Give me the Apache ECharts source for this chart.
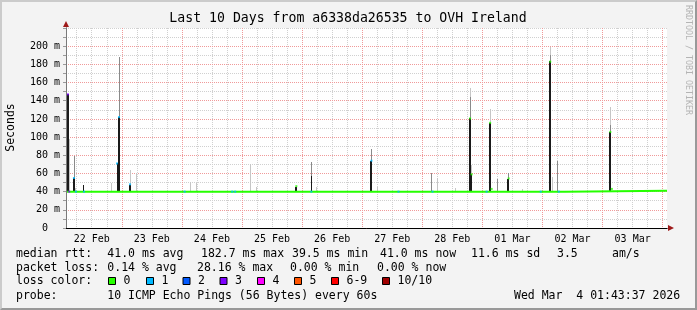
<!DOCTYPE html>
<html><head><meta charset="utf-8">
<script src="https://cdn.jsdelivr.net/npm/echarts@6/dist/echarts.min.js"></script>
<style>
html,body{margin:0;padding:0;background:#f3f3f3;overflow:hidden;}
#wrap{position:relative;width:697px;height:310px;}
#chart{position:absolute;left:0;top:0;width:697px;height:310px;}
#frame{position:absolute;left:0;top:0;width:697px;height:310px;box-sizing:border-box;border-top:2px solid #cbcbcb;border-left:2px solid #cbcbcb;border-right:2px solid #999;border-bottom:2px solid #999;pointer-events:none;}
</style></head>
<body><div id="wrap"><div id="chart"></div><div id="frame"></div></div>
<script>
// ---- time axis: hours since 22 Feb 00:00 ----
const X_MIN = 1.727, X_MAX = 241.727;
const Y_MIN = 0, Y_MAX = 220;
const dayLabels = ['22 Feb','23 Feb','24 Feb','25 Feb','26 Feb','27 Feb','28 Feb','01 Mar','02 Mar','03 Mar'];
const labelTimes = [12,36,60,84,108,132,156,180,204,228];
const midnightTimes = [24,48,72,96,120,144,168,192,216,240];
const sixHourTimes = [6,12,18,30,36,42,54,60,66,78,84,90,102,108,114,126,132,138,150,156,162,174,180,186,198,204,210,222,228,234];
const yLabelValues = [0,20,40,60,80,100,120,140,160,180,200];
const yMajorValues = [20,40,60,80,100,120,140,160,180,200];
const yMinorValues = [10,30,50,70,90,110,130,150,170,190,210,220];
const yTickValues = [0,10,20,30,40,50,60,70,80,90,100,110,120,130,140,150,160,170,180,190,200,210,220];

// ---- smoke columns (ms): dark core, medium grey, light grey tops ----
const SMOKE_BASE = 39.5;
const smokeTimes = [2.5,2.9,3.3,4.9,5.3,5.7,8.9,19.7,22.1,22.5,22.9,26.9,27.3,29.7,51.3,53.7,75.3,77.7,93.3,93.7,99.7,101.7,123.3,123.7,126.1,147.7,150.1,157.3,162.9,163.3,163.7,170.9,171.3,174.1,178.1,178.5,184.1,194.9,195.3,196.1,198.1,218.9,219.3];
const smokeDark  = [147,147,0,55,55,0,47,0,71,122,122,47,47,0,0,0,0,0,45,45,57,0,74,74,0,0,0,0,120.5,120.5,59,115.7,115.7,0,53.5,53.5,0,183.5,183.5,0,0,105.7,105.7];
const smokeMid   = [0,0,0,0,79,0,0,0,0,0,188,0,0,0,0,0,0,0,0,0,73,0,0,87,0,60,0,0,0,143.6,0,0,0,54,0,60,0,0,190,0,74,0,113];
const smokeLight = [0,0,98,0,0,44,0,50,0,0,0,0,64,60,50.6,50,70,45,0,0,0,45,0,0,45.5,0,55,43.6,0,153.5,69,0,130.5,0,0,0,42.5,0,199,56,0,0,133.4];

// ---- median rtt line (ms) ----
const medianBaseTimes = [1.727, 200.9, 241.727];
const medianBaseValues = [40, 41, 41];
const medianPointTimes = [2.5,3.0,4.9,5.7,8.9,22.1,22.9,27.3,49.1,68.1,69.3,93.7,99.7,123.7,134.5,148.1,163.1,163.7,169.7,171.1,171.7,178.5,191.3,195.1,198.5,219.1,219.7];
const medianPointValues = [147,40,55,40,40,71,122,48,40,40,40,46,40,74,40,40,120.5,59,40,115.7,43,54.5,40,183,40,105.7,43];
const medianPointLoss   = [3,3,1,1,1,1,1,1,1,1,1,0,1,1,1,1,0,0,1,0,0,0,1,0,1,0,0];

// ---- legend ----
const lossLabels = ['0','1','2','3','4','5','6-9','10/10'];
const lossColors = ['#26ff00','#00b8ff','#0059ff','#7e00ff','#ff00ff','#ff5500','#ff0000','#a00000'];
const titleText = 'Last 10 Days from a6338da26535 to OVH Ireland';
const rttItems = ['median rtt:','41.0 ms avg','182.7 ms max','39.5 ms min','41.0 ms now','11.6 ms sd','3.5','am/s'];
const lossItems = ['packet loss:','0.14 % avg','28.16 % max','0.00 % min','0.00 % now'];
const probeItems = ['probe:','10 ICMP Echo Pings (56 Bytes) every 60s','Wed Mar  4 01:43:37 2026'];
const watermark = 'RRDTOOL / TOBI OETIKER';

// ---- layout / style ----
const MONO = '"DejaVu Sans Mono", "Liberation Mono", monospace';
const rttX = [16,107.3,201,292,380,471,557,612];
const lossX = [16,107.3,197,290,377];
const probeX = [16,107.3,514];
const boxX = [108,146,182.5,219.5,257,294,331,382];
const LINE_Y = [254.5,268.5,281.5,296];

const chart = echarts.init(document.getElementById('chart'), null, {renderer:'canvas'});

const graphics = [];
graphics.push({type:'text', x:348, y:18.5, style:{text:titleText, font:'13.2px '+MONO, fill:'#000', align:'center', verticalAlign:'middle'}});
graphics.push({type:'text', x:11.5, y:127.5, rotation:Math.PI/2, style:{text:'Seconds', font:'11.5px '+MONO, fill:'#000', align:'center', verticalAlign:'middle'}});
graphics.push({type:'text', x:688, y:60, rotation:-Math.PI/2, style:{text:watermark, font:'8.3px '+MONO, fill:'#b4b4b4', align:'center', verticalAlign:'middle'}});
rttItems.forEach((t,i)=>graphics.push({type:'text', x:rttX[i], y:LINE_Y[0], style:{text:t, font:'11.5px '+MONO, fill:'#000', verticalAlign:'middle'}}));
lossItems.forEach((t,i)=>graphics.push({type:'text', x:lossX[i], y:LINE_Y[1], style:{text:t, font:'11.5px '+MONO, fill:'#000', verticalAlign:'middle'}}));
graphics.push({type:'text', x:16, y:LINE_Y[2], style:{text:'loss color:', font:'11.5px '+MONO, fill:'#000', verticalAlign:'middle'}});
lossLabels.forEach((t,i)=>{
  graphics.push({type:'rect', shape:{x:boxX[i]+0.5, y:277.5, width:7, height:7}, style:{fill:lossColors[i], stroke:'#000', lineWidth:1}});
  graphics.push({type:'text', x:boxX[i]+15.5, y:LINE_Y[2], style:{text:t, font:'11.5px '+MONO, fill:'#000', verticalAlign:'middle'}});
});
probeItems.forEach((t,i)=>graphics.push({type:'text', x:probeX[i], y:LINE_Y[3], style:{text:t, font:'11.5px '+MONO, fill:'#000', verticalAlign:'middle'}}));

const hidden = {show:false};
function gridX(values, color, z){
  return {type:'value', min:X_MIN, max:X_MAX, position:'bottom', gridIndex:0, z:z,
    axisLine:hidden, axisLabel:hidden,
    axisTick:{show:false, customValues:values},
    splitLine:{show:true, lineStyle:{color:color, width:1, type:[1,1]}}};
}
function gridY(values, color, z){
  return {type:'value', min:Y_MIN, max:Y_MAX, position:'left', gridIndex:0, z:z,
    axisLine:hidden, axisLabel:hidden,
    axisTick:{show:false, customValues:values},
    splitLine:{show:true, lineStyle:{color:color, width:1, type:[1,1]}}};
}
const ARROW = '#9e1a1a';

const option = {
  animation:false,
  backgroundColor:'#f3f3f3',
  grid:{left:66, right:30, top:28, bottom:82, show:true, backgroundColor:'#ffffff', borderWidth:0, containLabel:false, outerBoundsMode:'none'},
  graphic:graphics,
  xAxis:[
    {type:'value', min:X_MIN, max:X_MAX, position:'bottom', z:12,
      axisLine:{show:true, lineStyle:{color:'#000', width:1}},
      axisTick:{show:false},
      axisLabel:{show:true, customValues:labelTimes, margin:6, fontFamily:MONO, fontSize:10, color:'#000',
        formatter:(v)=>dayLabels[Math.round((v-12)/24)]},
      splitLine:{show:false}},
    gridX(sixHourTimes, '#d0d0d0', 0),
    gridX(midnightTimes, '#f09a9a', 1),
    {type:'value', min:X_MIN, max:X_MAX, position:'bottom', z:11,
      axisLine:{show:true, symbol:['none','triangle'], symbolSize:[6,6], symbolOffset:[0,4], lineStyle:{color:ARROW, width:1}},
      axisTick:hidden, axisLabel:hidden, splitLine:hidden}
  ],
  yAxis:[
    {type:'value', min:Y_MIN, max:Y_MAX, position:'left', z:12,
      axisLine:{show:true, lineStyle:{color:'#7a7a7a', width:1}},
      axisTick:{show:true, customValues:yTickValues, length:3, lineStyle:{color:'#9a9a9a'}},
      axisLabel:{show:true, customValues:yLabelValues, margin:6, fontFamily:MONO, fontSize:10, color:'#000',
        formatter:(v)=> v===0 ? '0  ' : (v+' m')},
      splitLine:{show:false}},
    gridY(yMinorValues, '#d0d0d0', 0),
    gridY(yMajorValues, '#f09a9a', 1),
    {type:'value', min:Y_MIN, max:Y_MAX, position:'left', z:11,
      axisLine:{show:true, symbol:['none','triangle'], symbolSize:[6,6], symbolOffset:[0,4], lineStyle:{color:ARROW, width:1}},
      axisTick:hidden, axisLabel:hidden, splitLine:hidden}
  ],
  series:[
    {type:'custom', xAxisIndex:0, yAxisIndex:0, silent:true, z:5,
      data: smokeTimes.map((t,i)=>[t, smokeDark[i], smokeMid[i], smokeLight[i]]),
      encode:{x:0, y:[1,2,3]},
      renderItem:(params, api)=>{
        const t = api.value(0);
        const w = Math.max(1, Math.round(api.size([0.4,0])[0]));
        const base = api.coord([t, SMOKE_BASE]);
        const x0 = Math.round(base[0] - w/2);
        const yb = Math.round(base[1]);
        const children = [];
        [[3,'#c6c6c6'],[2,'#8a8a8a'],[1,'#1a1a1a']].forEach(([d,color])=>{
          const v = api.value(d);
          if (v > 0) {
            const top = Math.round(api.coord([t, v])[1]);
            children.push({type:'rect', shape:{x:x0, y:top, width:w, height:yb-top}, style:{fill:color}});
          }
        });
        return {type:'group', children};
      }},
    {type:'line', xAxisIndex:0, yAxisIndex:0, silent:true, z:6, step:'end', showSymbol:false, symbol:'none',
      data: medianBaseTimes.map((t,i)=>[t, medianBaseValues[i]]),
      lineStyle:{color:lossColors[0], width:2}},
    {type:'scatter', xAxisIndex:0, yAxisIndex:0, silent:true, z:7, symbol:'rect', symbolSize:[2,2],
      data: medianPointTimes.map((t,i)=>({value:[t, medianPointValues[i]], itemStyle:{color:lossColors[medianPointLoss[i]]}}))}
  ]
};
chart.setOption(option);
</script>
</body></html>
